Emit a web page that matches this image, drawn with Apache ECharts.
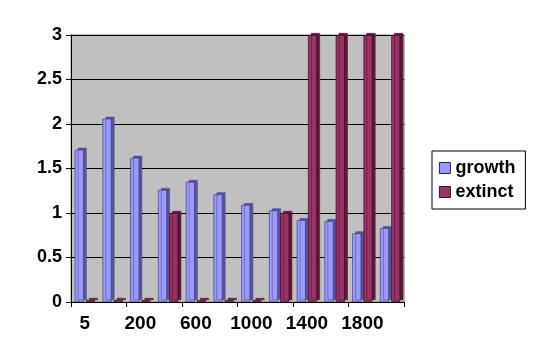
<!DOCTYPE html>
<html><head><meta charset="utf-8">
<script src="https://cdn.jsdelivr.net/npm/echarts@6/dist/echarts.min.js"></script>
<style>html,body{margin:0;padding:0;background:#fff}#c{width:539px;height:360px}</style>
</head><body><div id="c"></div>
<script>
var categories = ['5','100','200','400','600','800','1000','1200','1400','1600','1800','2000'];
var growth = [1.71, 2.06, 1.62, 1.26, 1.35, 1.21, 1.09, 1.03, 0.92, 0.91, 0.77, 0.83];
var extinct = [0, 0, 0, 1, 0, 0, 0, 1, 3, 3, 3, 3];
var yTicks = [0, 0.5, 1, 1.5, 2, 2.5, 3];

var chart = echarts.init(document.getElementById('c'));
var font = 'Liberation Sans, Arial, sans-serif';
chart.setOption({
  animation: false,
  backgroundColor: '#ffffff',
  grid: { left: 71, right: 135, top: 35, bottom: 58, show: true, backgroundColor: '#c0c0c0', borderColor: '#808080', borderWidth: 1 },
  legend: {
    orient: 'vertical', left: 432, top: 151,
    data: ['growth', 'extinct'],
    itemWidth: 11, itemHeight: 11, itemGap: 6,
    padding: [8, 10, 8, 7],
    borderColor: '#000', borderWidth: 1,
    icon: 'rect',
    itemStyle: { borderColor: '#000', borderWidth: 0.8 },
    textStyle: { fontFamily: font, fontWeight: 'bold', fontSize: 18, color: '#000' }
  },
  xAxis: {
    type: 'category', data: categories,
    axisLine: { lineStyle: { color: '#000', width: 1 } },
    axisTick: { show: true, length: 5, lineStyle: { color: '#000' } },
    axisLabel: { interval: 1, margin: 12, fontFamily: font, fontWeight: 'bold', fontSize: 19, color: '#000' },
    splitLine: { show: false }
  },
  yAxis: {
    type: 'value', min: yTicks[0], max: yTicks[yTicks.length - 1], interval: 0.5,
    axisLine: { show: true, lineStyle: { color: '#000', width: 1 } },
    axisTick: { show: true, length: 5, lineStyle: { color: '#000' } },
    axisLabel: { margin: 9, fontFamily: font, fontWeight: 'bold', fontSize: 18, color: '#000' },
    splitLine: { show: true, lineStyle: { color: '#000', width: 1 } }
  },
  series: [
    { name: 'growth', type: 'bar', data: growth, barWidth: 9, barGap: '25%',
      itemStyle: { color: '#9999ff', borderColor: '#333366', borderWidth: 0.6,
        shadowColor: '#55559a', shadowOffsetX: 3, shadowOffsetY: -2, shadowBlur: 0 } },
    { name: 'extinct', type: 'bar', data: extinct, barWidth: 9, barMinHeight: 2,
      itemStyle: { color: '#993366', borderColor: '#330011', borderWidth: 0.6,
        shadowColor: '#5a1a38', shadowOffsetX: 3, shadowOffsetY: -2, shadowBlur: 0 } }
  ]
});
</script></body></html>
